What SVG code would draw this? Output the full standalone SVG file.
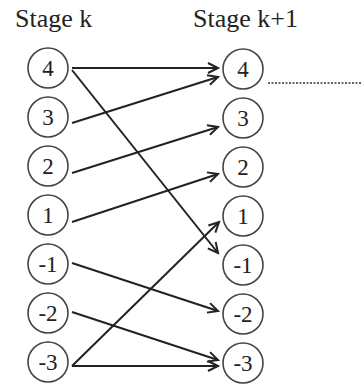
<svg xmlns="http://www.w3.org/2000/svg" width="362" height="385" viewBox="0 0 362 385" font-family="Liberation Serif, Times New Roman, serif">
<style>
.lbl{font-family:"Liberation Serif","Times New Roman",serif;font-size:23px;fill:#222;text-anchor:middle}
.ttl{font-family:"Liberation Serif","Times New Roman",serif;font-size:26px;fill:#222}
</style>
<defs>
<marker id="arr" markerUnits="userSpaceOnUse" markerWidth="14" markerHeight="14" refX="11" refY="6" orient="auto" viewBox="0 0 14 12">
<path d="M1,1 L11,6 L1,11" fill="none" stroke="#222" stroke-width="2"/>
</marker>
</defs>
<rect width="362" height="385" fill="#fff"/>
<text class="ttl" x="15" y="27" font-family="Liberation Serif, Times New Roman, serif">Stage k</text>
<text class="ttl" x="193" y="27" font-family="Liberation Serif, Times New Roman, serif">Stage k+1</text>
<g id="connectors" stroke="#222" stroke-width="2" fill="none" marker-end="url(#arr)">
<line x1="72" y1="68" x2="218" y2="68"/>
<line x1="72" y1="123" x2="218" y2="77"/>
<line x1="72" y1="70" x2="218" y2="253"/>
<line x1="72" y1="173" x2="218" y2="127"/>
<line x1="72" y1="222" x2="218" y2="174"/>
<line x1="72" y1="366" x2="219" y2="222"/>
<line x1="72" y1="263" x2="218" y2="311"/>
<line x1="72" y1="312" x2="218" y2="360"/>
<line x1="72" y1="366" x2="218" y2="366"/>
</g>
<line x1="268" y1="83" x2="361" y2="83" stroke="#333" stroke-width="1.5" stroke-dasharray="2,1.5"/>
<g id="k_4"><circle cx="48" cy="68" r="20" fill="#fff" stroke="#444" stroke-width="1.6"/><text class="lbl" x="48" y="76" font-family="Liberation Serif, Times New Roman, serif">4</text></g>
<g id="k_3"><circle cx="48" cy="117" r="20" fill="#fff" stroke="#444" stroke-width="1.6"/><text class="lbl" x="48" y="125" font-family="Liberation Serif, Times New Roman, serif">3</text></g>
<g id="k_2"><circle cx="48" cy="166" r="20" fill="#fff" stroke="#444" stroke-width="1.6"/><text class="lbl" x="48" y="174" font-family="Liberation Serif, Times New Roman, serif">2</text></g>
<g id="k_1"><circle cx="48" cy="215" r="20" fill="#fff" stroke="#444" stroke-width="1.6"/><text class="lbl" x="48" y="223" font-family="Liberation Serif, Times New Roman, serif">1</text></g>
<g id="k_m1"><circle cx="48" cy="264" r="20" fill="#fff" stroke="#444" stroke-width="1.6"/><text class="lbl" x="48" y="272" font-family="Liberation Serif, Times New Roman, serif">-1</text></g>
<g id="k_m2"><circle cx="48" cy="313" r="20" fill="#fff" stroke="#444" stroke-width="1.6"/><text class="lbl" x="48" y="321" font-family="Liberation Serif, Times New Roman, serif">-2</text></g>
<g id="k_m3"><circle cx="48" cy="362" r="20" fill="#fff" stroke="#444" stroke-width="1.6"/><text class="lbl" x="48" y="370" font-family="Liberation Serif, Times New Roman, serif">-3</text></g>
<g id="k1_4"><circle cx="243" cy="69" r="20" fill="#fff" stroke="#444" stroke-width="1.6"/><text class="lbl" x="243" y="77" font-family="Liberation Serif, Times New Roman, serif">4</text></g>
<g id="k1_3"><circle cx="243" cy="118" r="20" fill="#fff" stroke="#444" stroke-width="1.6"/><text class="lbl" x="243" y="126" font-family="Liberation Serif, Times New Roman, serif">3</text></g>
<g id="k1_2"><circle cx="243" cy="167" r="20" fill="#fff" stroke="#444" stroke-width="1.6"/><text class="lbl" x="243" y="175" font-family="Liberation Serif, Times New Roman, serif">2</text></g>
<g id="k1_1"><circle cx="243" cy="216" r="20" fill="#fff" stroke="#444" stroke-width="1.6"/><text class="lbl" x="243" y="224" font-family="Liberation Serif, Times New Roman, serif">1</text></g>
<g id="k1_m1"><circle cx="243" cy="265" r="20" fill="#fff" stroke="#444" stroke-width="1.6"/><text class="lbl" x="243" y="273" font-family="Liberation Serif, Times New Roman, serif">-1</text></g>
<g id="k1_m2"><circle cx="243" cy="314" r="20" fill="#fff" stroke="#444" stroke-width="1.6"/><text class="lbl" x="243" y="322" font-family="Liberation Serif, Times New Roman, serif">-2</text></g>
<g id="k1_m3"><circle cx="243" cy="363" r="20" fill="#fff" stroke="#444" stroke-width="1.6"/><text class="lbl" x="243" y="371" font-family="Liberation Serif, Times New Roman, serif">-3</text></g>
</svg>
